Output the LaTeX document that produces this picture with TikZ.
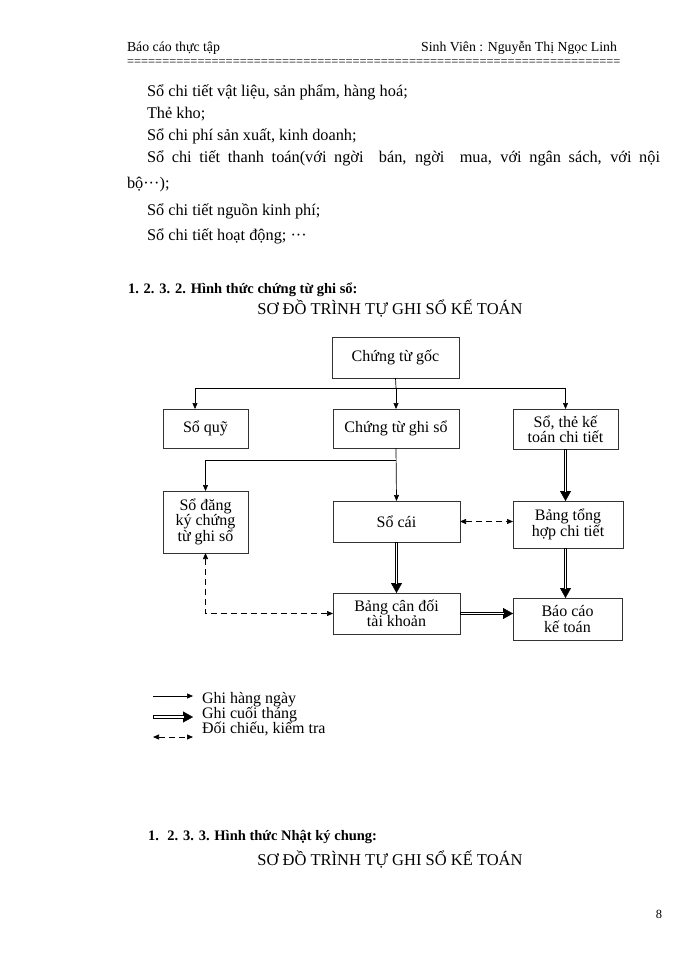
\documentclass[tikz,border=0pt]{standalone}
\usepackage{fontspec}
\setmainfont{Liberation Serif}
\usetikzlibrary{arrows.meta,calc}
\begin{document}
\begin{tikzpicture}[x=1pt,y=-1pt,
  every node/.style={inner sep=0pt,outer sep=0pt},
  body/.style={anchor=base west,font=\fontsize{16.3}{18}\selectfont},
  hdr/.style={font=\fontsize{13.8}{15}\selectfont},
  boxnode/.style={draw=black!80,line width=0.7pt,align=center,font=\fontsize{16}{15}\selectfont},
  thinarr/.style={line width=0.7pt,-{Triangle[length=6pt,width=5pt]}},
  thickarr/.style={line width=3.4pt,-{Triangle[length=10pt,width=11pt,line width=0.4pt]},
     postaction={draw=white,line width=1.3pt,-,shorten >=9.5pt,shorten <=0.7pt}},
  dasharr/.style={line width=0.7pt,dash pattern=on 6pt off 4pt,{Triangle[length=6pt,width=5pt]}-{Triangle[length=6pt,width=5pt]}},
  legtext/.style={anchor=base west,font=\fontsize{16}{14}\selectfont}
]
\useasboundingbox (0,0) rectangle (700,960);

% header
\node[hdr,anchor=base west] (h1) at (127,52) {Báo cáo thực tập};
\node[hdr,anchor=base east] (h2) at (617,52) {Sinh Viên : Nguyễn Thị Ngọc Linh};
\node[anchor=base west,font=\fontsize{12.5}{14}\selectfont] (h3) at (127,66) {\makebox[490pt][s]{%
=\hfil=\hfil=\hfil=\hfil=\hfil=\hfil=\hfil=\hfil=\hfil=\hfil=\hfil=\hfil=\hfil=\hfil=\hfil=\hfil=\hfil=\hfil=\hfil=\hfil%
=\hfil=\hfil=\hfil=\hfil=\hfil=\hfil=\hfil=\hfil=\hfil=\hfil=\hfil=\hfil=\hfil=\hfil=\hfil=\hfil=\hfil=\hfil=\hfil=\hfil%
=\hfil=\hfil=\hfil=\hfil=\hfil=\hfil=\hfil=\hfil=\hfil=\hfil=\hfil=\hfil=\hfil=\hfil=\hfil=\hfil=\hfil=\hfil=\hfil=\hfil%
=\hfil=\hfil=\hfil=\hfil=\hfil=\hfil=\hfil=\hfil=\hfil=}};

% body text
\node[body] (t1) at (147,97) {Sổ chi tiết vật liệu, sản phẩm, hàng hoá;};
\node[body] (t2) at (147,119) {Thẻ kho;};
\node[body] (t3) at (147,141) {Sổ chi phí sản xuất, kinh doanh;};
\node[body] (t4) at (147,163) {\makebox[513pt][s]{Sổ chi tiết thanh toán(với ngời \ bán, ngời \ mua, với ngân sách, với nội}};
\node[body] (t5) at (127,189) {bộ···);};
\node[body] (t6) at (147,215) {Sổ chi tiết nguồn kinh phí;};
\node[body] (t7) at (147,240) {Sổ chi tiết hoạt động; ···};

\node[anchor=base west,font=\fontsize{14.5}{16}\selectfont\bfseries] (s1) at (128,293) {1. 2. 3. 2. Hình thức chứng từ ghi sổ:};
\node[anchor=base,font=\fontsize{16.5}{18}\selectfont] (s1t) at (390,314) {SƠ ĐỒ TRÌNH TỰ GHI SỔ KẾ TOÁN};

% diagram boxes
\node[boxnode,minimum width=127pt,minimum height=41pt] (goc) at (395.5,357.5) {Chứng từ gốc};
\node[boxnode,minimum width=85pt,minimum height=39pt] (quy) at (205.5,428.5) {Sổ quỹ};
\node[boxnode,minimum width=126pt,minimum height=39pt] (ctgs) at (396,428.5) {Chứng từ ghi sổ};
\node[boxnode,minimum width=105pt,minimum height=40pt] (sothe) at (565.5,429) {Sổ, thẻ kế\\toán chi tiết};
\node[boxnode,minimum width=85pt,minimum height=62pt,font=\fontsize{16}{14}\selectfont] (dangky) at (205.5,522) {Sổ đăng\\ký chứng\\từ ghi sổ};
\node[boxnode,minimum width=127pt,minimum height=41pt] (socai) at (396.5,521.5) {Sổ cái};
\node[boxnode,minimum width=110pt,minimum height=47pt] (bth) at (568,524.5) {Bảng tổng\\hợp chi tiết};
\node[boxnode,minimum width=127pt,minimum height=41pt] (cdtk) at (396.5,613.5) {Bảng cân đối\\tài khoản};
\node[boxnode,minimum width=109pt,minimum height=42pt,font=\fontsize{16}{16}\selectfont] (bckt) at (567.5,619) {Báo cáo\\kế toán};

% connectors
\coordinate (j1) at (396,388);
\draw[line width=0.7pt] (goc.south) -- (j1);
\draw[thinarr] (j1) -| ([xshift=-10.5pt]quy.north);
\draw[thinarr] (j1) -| (sothe.north);
\draw[thinarr] (j1) -- (ctgs.north);
\coordinate (j2) at (396,460);
\draw[thinarr] (ctgs.south) -- (socai.north);
\draw[thinarr] (j2) -| (dangky.north);
\draw[thickarr] (sothe.south) -- (sothe.south |- bth.north);
\draw[dasharr] (socai.east) -- (socai.east -| bth.west);
\draw[thickarr] (socai.south) -- (cdtk.north);
\draw[thickarr] (sothe.south |- bth.south) -- (sothe.south |- bckt.north);
\draw[thickarr] (cdtk.east) -- (cdtk.east -| bckt.west);
\draw[dasharr] (dangky.south) |- (cdtk.west);

% legend
\coordinate (l1a) at (153,696); \coordinate (l1b) at (193,696);
\coordinate (l2a) at (153,717); \coordinate (l2b) at (193,717);
\coordinate (l3a) at (153,737); \coordinate (l3b) at (193,737);
\draw[thinarr] (l1a) -- (l1b);
\draw[thickarr] (l2a) -- (l2b);
\draw[dasharr] (l3a) -- (l3b);
\node[legtext] (g1) at (202,703) {Ghi hàng ngày};
\node[legtext] (g2) at (202,718) {Ghi cuối tháng};
\node[legtext] (g3) at (202,733) {Đối chiếu, kiểm tra};

% bottom
\node[anchor=base west,font=\fontsize{14.5}{16}\selectfont\bfseries] (s2) at (148,840) {1. \ 2. 3. 3. Hình thức Nhật ký chung:};
\node[anchor=base,font=\fontsize{16.5}{18}\selectfont] (s2t) at (390,865) {SƠ ĐỒ TRÌNH TỰ GHI SỔ KẾ TOÁN};
\node[anchor=base east,font=\fontsize{12.5}{14}\selectfont] (pg) at (662,918) {8};
\end{tikzpicture}
\end{document}
